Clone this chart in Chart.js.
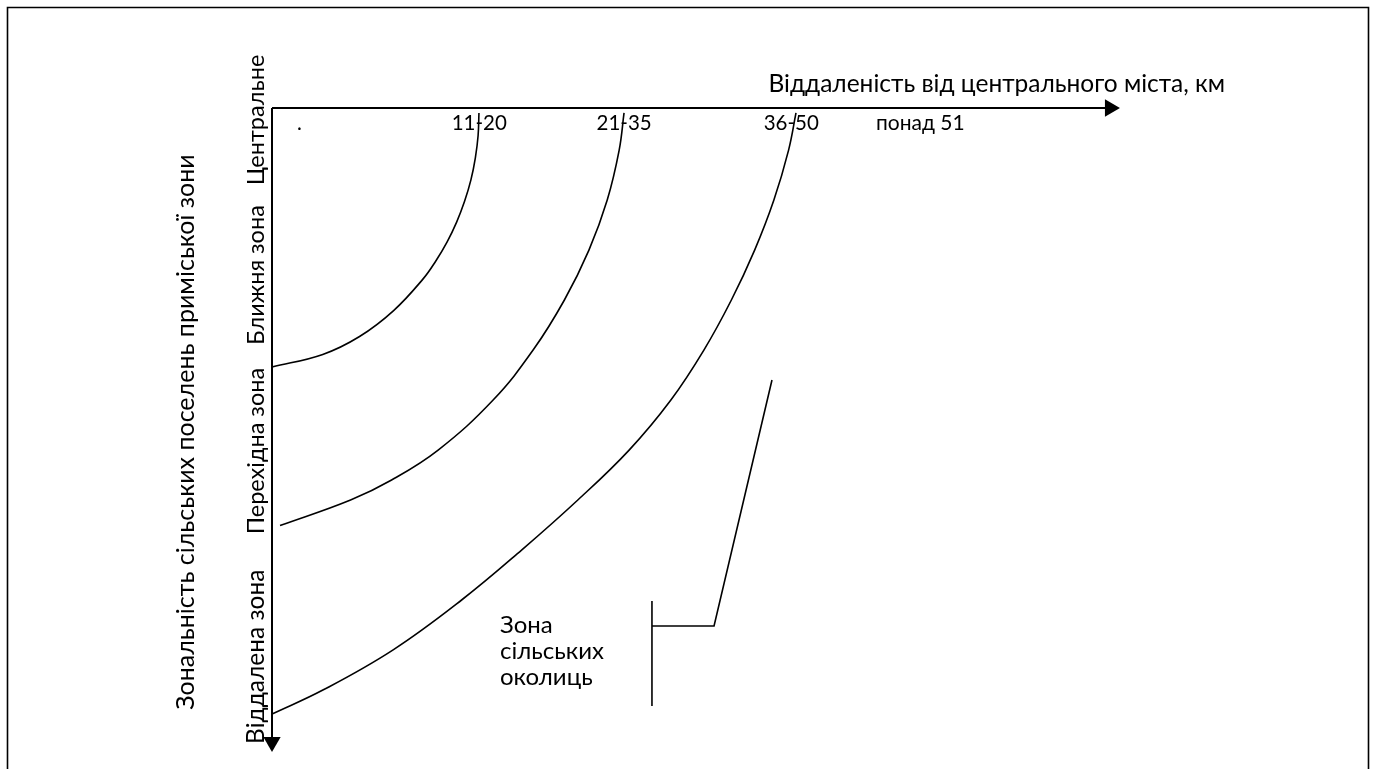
<!DOCTYPE html>
<html>
<head>
<meta charset="utf-8">
<script src="https://cdn.jsdelivr.net/npm/chart.js@4.4.1/dist/chart.umd.min.js"></script>
<style>
  body { margin: 0; background: #fff; }
  #wrap { width: 1375px; height: 769px; position: relative; }
</style>
</head>
<body>
<div id="wrap"><canvas id="scheme"></canvas></div>
<script>
// відстань (умовні км) по горизонталі, зона (0..4) по вертикалі
const distanceLabels = ['.', '11-20', '21-35', '36-50', 'понад 51'];
const distanceValues = [2.6, 19.6, 33.3, 49.1, 61.3];

const zoneLabels = ['Центральне', 'Ближня зона', 'Перехідна зона', 'Віддалена зона'];
const zoneValues = [0.075, 1.044, 2.144, 3.43];

const xTitle = 'Віддаленість від центрального міста, км';
const yTitle = 'Зональність сільських поселень приміської зони';
const noteLines = ['Зона', 'сільських', 'околиць'];

// межі зон (дуги)
const arc1X = [19.57, 19.49, 19.23, 18.81, 18.21, 17.46, 16.55, 15.49, 14.29, 11.5, 8.28, 4.8, 0];
const arc1Y = [0.031, 0.172, 0.311, 0.449, 0.583, 0.713, 0.838, 0.956, 1.068, 1.266, 1.428, 1.54, 1.619];

const arc2X = [33.29, 32.83, 31.7, 29.97, 27.65, 24.69, 20.91, 15.71, 11.31, 7.43, 0.76];
const arc2Y = [0.031, 0.263, 0.575, 0.888, 1.2, 1.513, 1.825, 2.138, 2.325, 2.45, 2.61];

const arc3X = [49.55, 48.85, 47.46, 45.64, 43.44, 40.84, 37.72, 33.77, 28.92, 23.6, 17.93, 11.42, 4.81, 0];
const arc3Y = [0.031, 0.263, 0.575, 0.888, 1.2, 1.513, 1.825, 2.138, 2.45, 2.763, 3.075, 3.388, 3.638, 3.788];

// виноска "Зона сільських околиць"
const leaderX = [47.28, 41.8, 35.93];
const leaderY = [1.7, 3.2375, 3.2375];
const braceX = [35.93, 35.93];
const braceY = [3.081, 3.7375];

function pts(xs, ys) {
    return xs.map((x, i) => ({ x: x, y: ys[i] }));
}

const FONT = 'Lato, "Open Sans", sans-serif';

function lineSet(xs, ys, width, tension) {
    return {
        data: pts(xs, ys),
        showLine: true,
        borderColor: '#000',
        borderWidth: width,
        pointRadius: 0,
        tension: tension,
        clip: false
    };
}

function arrowSet(x, y, angle) {
    return {
        data: [{ x: x, y: y }],
        pointStyle: 'triangle',
        rotation: angle,
        pointRadius: 10,
        backgroundColor: '#000',
        borderColor: '#000',
        borderWidth: 0,
        clip: false
    };
}

const decor = {
    id: 'decor',
    beforeDraw(chart) {
        const ctx = chart.ctx;
        ctx.save();
        ctx.fillStyle = '#fff';
        ctx.fillRect(0, 0, chart.width, chart.height);
        ctx.strokeStyle = '#000';
        ctx.lineWidth = 1.6;
        ctx.beginPath();
        ctx.moveTo(7.5, 769);
        ctx.lineTo(7.5, 7.5);
        ctx.lineTo(1368.5, 7.5);
        ctx.lineTo(1368.5, 769);
        ctx.stroke();
        ctx.restore();
    },
    afterDatasetsDraw(chart) {
        const ctx = chart.ctx;
        const xs = chart.scales.x, ys = chart.scales.y;
        ctx.save();
        ctx.fillStyle = '#000';
        ctx.textBaseline = 'alphabetic';

        // підписи відстаней
        ctx.textAlign = 'center';
        distanceLabels.forEach((t, i) => {
            ctx.font = (i === 4 ? '21px ' : '20.5px ') + FONT;
            ctx.fillText(t, xs.getPixelForValue(distanceValues[i]), 130);
        });

        // назва горизонтальної осі
        ctx.font = '24.5px ' + FONT;
        ctx.textAlign = 'right';
        ctx.fillText(xTitle, 1225, 92);

        // вертикальні підписи зон
        ctx.textAlign = 'center';
        ctx.textBaseline = 'middle';
        zoneLabels.forEach((t, i) => {
            ctx.save();
            ctx.translate(256, ys.getPixelForValue(zoneValues[i]));
            ctx.rotate(-Math.PI / 2);
            ctx.font = (i === 3 ? '24.5px ' : '23.5px ') + FONT;
            ctx.fillText(t, 0, 0);
            ctx.restore();
        });
        ctx.save();
        ctx.translate(186, 432);
        ctx.rotate(-Math.PI / 2);
        ctx.font = '25px ' + FONT;
        ctx.fillText(yTitle, 0, 0);
        ctx.restore();

        // виноска
        ctx.textAlign = 'left';
        ctx.textBaseline = 'alphabetic';
        ctx.font = '24px ' + FONT;
        noteLines.forEach((t, i) => {
            ctx.fillText(t, 500, 633 + i * 26);
        });
        ctx.restore();
    }
};

new Chart(document.getElementById('scheme'), {
    type: 'scatter',
    data: {
        datasets: [
            lineSet([0, 78.9], [0, 0], 2, 0),
            lineSet([0, 0], [0, 3.95], 2, 0),
            arrowSet(79.24, 0, 90),
            arrowSet(0, 3.9625, 180),
            lineSet(arc1X, arc1Y, 1.6, 0.4),
            lineSet(arc2X, arc2Y, 1.6, 0.4),
            lineSet(arc3X, arc3Y, 1.6, 0.4),
            lineSet(leaderX, leaderY, 1.6, 0),
            lineSet(braceX, braceY, 1.6, 0)
        ]
    },
    options: {
        responsive: true,
        maintainAspectRatio: false,
        animation: false,
        events: [],
        layout: { padding: { left: 272, right: 257, top: 108, bottom: 21 } },
        scales: {
            x: { type: 'linear', min: 0, max: 80, display: false },
            y: { type: 'linear', min: 0, max: 4, reverse: true, display: false }
        },
        plugins: {
            legend: { display: false },
            tooltip: { enabled: false }
        }
    },
    plugins: [decor]
});
</script>
</body>
</html>
